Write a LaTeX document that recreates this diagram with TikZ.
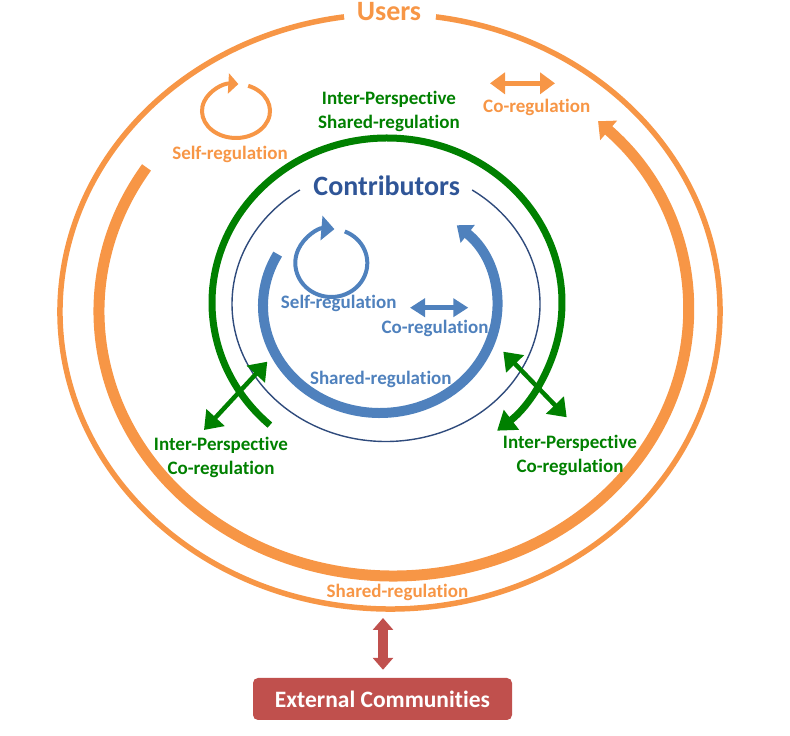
\documentclass[tikz,border=0pt]{standalone}
\usepackage{fontspec}
\setmainfont{Carlito}[Ligatures={NoCommon}]
\usetikzlibrary{arrows.meta}
\definecolor{uorange}{HTML}{F79646}
\definecolor{igreen}{HTML}{008000}
\definecolor{cblue}{HTML}{4F81BD}
\definecolor{cnavy}{HTML}{2F5597}
\definecolor{cline}{HTML}{2F4B7C}
\definecolor{ered}{HTML}{C0504D}
\begin{document}
\begin{tikzpicture}[x=1pt,y=1pt,
  lbl/.style={font=\bfseries\fontsize{19}{23.5}\selectfont, anchor=base, align=center, inner sep=0pt},
  biglbl/.style={font=\bfseries\fontsize{28}{34}\selectfont, anchor=base, inner sep=0pt},
  extbox/.style={fill=ered, rounded corners=5pt, minimum width=259pt, minimum height=42pt,
    text=white, font=\bfseries\fontsize{23.5}{28}\selectfont, inner sep=0pt},
  odbl/.style={uorange, line width=5pt, {Triangle[width=21pt,length=15pt]}-{Triangle[width=21pt,length=15pt]}},
  bdbl/.style={cblue, line width=4.5pt, {Triangle[width=18pt,length=15pt]}-{Triangle[width=18pt,length=15pt]}},
  gdbl/.style={igreen, line width=4.5pt, {Triangle[width=24pt,length=17pt]}-{Triangle[width=24pt,length=17pt]}},
  rdbl/.style={ered, line width=10pt, {Triangle[width=20pt,length=12pt]}-{Triangle[width=20pt,length=12pt]}}
]
\useasboundingbox (0,0) rectangle (790,736);

% Users outer ellipse (gap for the title)
\draw[uorange, line width=5.5pt] (390,424.5) ++(82:330pt and 297.5pt)
  arc[start angle=82, end angle=-262, x radius=330pt, y radius=297.5pt];
% Users shared-regulation thick arc
\draw[uorange, line width=11pt, -{Triangle[width=25pt,length=14pt]}] (393.5,424.5) ++(147:294.5pt and 264.5pt)
  arc[start angle=147, end angle=406, x radius=294.5pt, y radius=264.5pt];
% Inter-perspective shared-regulation green arc
\draw[igreen, line width=7pt, -{Triangle[width=24pt,length=18pt]}] (387,433.3) ++(-132:175pt and 164.7pt)
  arc[start angle=-132, end angle=-411, x radius=175pt, y radius=164.7pt];
% Contributors thin ellipse
\draw[cline, line width=1.4pt] (386,432) ++(56:154pt and 137.5pt)
  arc[start angle=56, end angle=-236, x radius=154pt, y radius=137.5pt];
% Contributors shared-regulation blue arc
\draw[cblue, line width=10pt, -{Triangle[width=22pt,length=14pt]}] (380,430) ++(151:117pt and 107pt)
  arc[start angle=151, end angle=409, x radius=117pt, y radius=107pt];
% self-regulation loops
\draw[uorange, line width=4pt, -{Triangle[width=20pt,length=10pt]}] (236,625) ++(69:34pt and 27pt)
  arc[start angle=69, end angle=-274, x radius=34pt, y radius=27pt];
\draw[cblue, line width=4pt, -{Triangle[width=24pt,length=13pt]}] (331.3,473) ++(68:36pt and 34pt)
  arc[start angle=68, end angle=-275, x radius=36pt, y radius=34pt];

% double arrows
\coordinate (oa1) at (490,652.7);
\coordinate (oa2) at (555,652.7);
\coordinate (ba1) at (410,428.3);
\coordinate (ba2) at (468.3,428.3);
\coordinate (gl1) at (204,306);
\coordinate (gl2) at (267.3,374.3);
\coordinate (gr1) at (503.3,384.3);
\coordinate (gr2) at (566.7,318.7);
\draw[odbl] (oa1) -- (oa2);
\draw[bdbl] (ba1) -- (ba2);
\draw[gdbl] (gl1) -- (gl2);
\draw[gdbl] (gr1) -- (gr2);

% labels (base anchor = baseline of the last line)
\node[biglbl, text=uorange] (users) at (389,715.5) {Users};
\node[lbl, text=igreen] (ipsr) at (389,607.7) {Inter-Perspective\\Shared-regulation};
\node[lbl, text=uorange] (uself) at (230,576.7) {Self-regulation};
\node[lbl, text=uorange] (ucoreg) at (536.7,623.3) {Co-regulation};
\node[biglbl, text=cnavy] (contrib) at (386.7,540) {Contributors};
\node[lbl, text=cblue] (cself) at (338.7,427.7) {Self-regulation};
\node[lbl, text=cblue] (ccoreg) at (435,402) {Co-regulation};
\node[lbl, text=cblue] (cshared) at (380.8,351) {Shared-regulation};
\node[lbl, text=igreen] (ipcl) at (221,261.7) {Inter-Perspective\\Co-regulation};
\node[lbl, text=igreen] (ipcr) at (570,263.7) {Inter-Perspective\\Co-regulation};
\node[lbl, text=uorange] (ushared) at (397.5,138.7) {Shared-regulation};

% external communities
\node[extbox] (ext) at (382.5,37) {External Communities};
\coordinate (ra1) at (383,118);
\draw[rdbl] (ra1) -- ([xshift=0.5pt,yshift=8pt]ext.north);
\end{tikzpicture}
\end{document}
